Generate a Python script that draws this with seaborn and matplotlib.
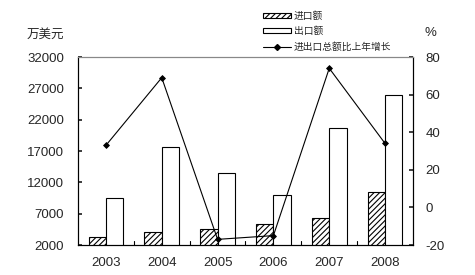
import matplotlib
matplotlib.use("Agg")
import matplotlib.pyplot as plt
import seaborn as sns
import pandas as pd
from matplotlib.patches import Patch
from matplotlib.lines import Line2D

years = ["2003", "2004", "2005", "2006", "2007", "2008"]
imports = [3200, 4000, 4500, 5300, 6300, 10500]
exports = [9500, 17600, 13500, 10000, 20600, 25900]
growth = [33, 69, -17, -15, 74, 34]
left_ticks = [2000, 7000, 12000, 17000, 22000, 27000, 32000]
right_ticks = [-20, 0, 20, 40, 60, 80]
labels = ["进口额", "出口额", "进出口总额比上年增长"]

sns.set_theme(style="white")
plt.rcParams["font.family"] = ["Liberation Sans", "Noto Sans CJK SC", "DejaVu Sans"]
plt.rcParams["axes.unicode_minus"] = False
plt.rcParams["hatch.linewidth"] = 0.8
cjk = ["Noto Sans CJK SC", "DejaVu Sans"]

df = pd.DataFrame({
    "year": years * 2,
    "value": imports + exports,
    "kind": [labels[0]] * len(years) + [labels[1]] * len(years),
})

fig = plt.figure(figsize=(4.75, 2.75), dpi=100)
ax = fig.add_axes([78 / 475, 1 - 245 / 275, 335 / 475, 188 / 275])

sns.barplot(data=df, x="year", y="value", hue="kind", ax=ax,
            palette=["white", "white"], edgecolor="black", linewidth=0.8,
            width=0.62, legend=False, saturation=1)
for i, p in enumerate(ax.patches):
    if i < len(years):
        p.set_hatch("//////")

ax.set_ylim(2000, 32000)
ax.set_yticks(left_ticks)
ax.set_xlim(-0.5, len(years) - 0.5)
ax.set_xlabel("")
ax.set_ylabel("")
ax.set_xticks(range(len(years)))
ax.set_xticklabels(years)
ax.tick_params(axis="x", length=0, labelsize=9.5, pad=9)
ax.tick_params(axis="y", direction="in", length=3, labelsize=9.5, left=True, pad=10)
for x in [k + 0.5 for k in range(len(years) - 1)]:
    ax.plot([x, x], [2000, 2000 + 30000 * 4 / 188], color="black", lw=0.8, zorder=5)
for s in ax.spines.values():
    s.set_color("black")
    s.set_linewidth(0.8)

ax2 = ax.twinx()
sns.pointplot(x=years, y=growth, ax=ax2, color="black", markers="D",
              markersize=3, linewidth=0.8)
ax2.set_ylim(-20, 80)
ax2.set_yticks(right_ticks)
ax2.set_xlim(-0.5, len(years) - 0.5)
ax2.set_ylabel("")
ax2.tick_params(axis="y", direction="in", length=3, labelsize=9.5, right=True, pad=9)
for s in ax2.spines.values():
    s.set_color("black")
    s.set_linewidth(0.8)
ax2.spines["top"].set_color("#888888")
ax.spines["top"].set_color("#888888")

fig.text(45 / 475, 1 - 34 / 275, "万美元", fontsize=9, va="center", ha="center", family=cjk)
fig.text(430 / 475, 1 - 33 / 275, "%", fontsize=9.5, va="center", ha="center")

handles = [
    Patch(facecolor="white", edgecolor="black", hatch="//////", linewidth=0.8),
    Patch(facecolor="white", edgecolor="black", linewidth=0.8),
    Line2D([0], [0], color="black", lw=0.8, marker="D", markersize=3),
]
leg = fig.legend(handles, labels, loc="upper left", bbox_to_anchor=(258 / 475, 1 - 6 / 275),
                 frameon=False, prop={"family": cjk, "size": 7}, handlelength=2.9,
                 handleheight=0.45, labelspacing=0.55, borderpad=0.0, handletextpad=0.3)

fig.savefig("out.png", dpi=100)
